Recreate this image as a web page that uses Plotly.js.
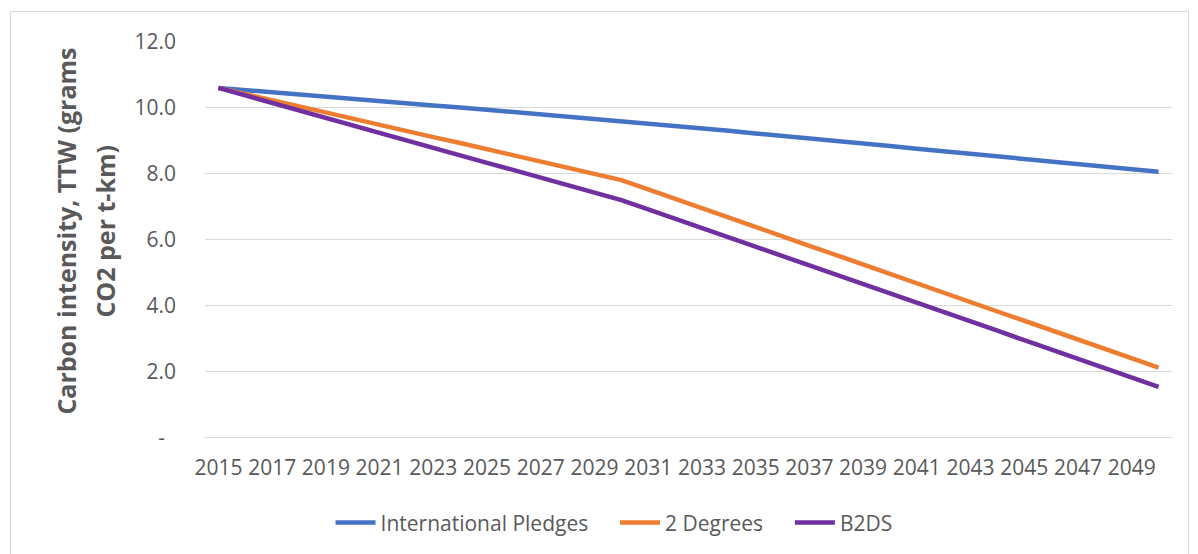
<!DOCTYPE html>
<html>
<head>
<meta charset="utf-8">
<script src="https://cdn.plot.ly/plotly-3.0.1.min.js"></script>
<style>
  html, body { margin: 0; padding: 0; background: #fff; }
  #wrap { position: relative; width: 1198px; height: 554px; overflow: hidden; }
  #chart { position: absolute; left: 0; top: 0; width: 1198px; height: 554px; }
  #frame { position: absolute; left: 10px; top: 11px; width: 1177px; height: 600px; border: 1px solid #d9d9d9; pointer-events: none; }
</style>
</head>
<body>
<div id="wrap">
  <div id="chart"></div>
  <div id="frame"></div>
</div>
<script>
const years = ["2015","2016","2017","2018","2019","2020","2021","2022","2023","2024","2025","2026","2027","2028","2029","2030","2031","2032","2033","2034","2035","2036","2037","2038","2039","2040","2041","2042","2043","2044","2045","2046","2047","2048","2049","2050"];

const internationalPledges = [10.59,10.52,10.46,10.39,10.33,10.26,10.19,10.13,10.06,10.00,9.93,9.86,9.80,9.73,9.67,9.60,9.52,9.45,9.37,9.29,9.21,9.14,9.06,8.98,8.90,8.83,8.75,8.67,8.59,8.52,8.44,8.36,8.28,8.21,8.13,8.05];

const twoDegrees = [10.59,10.40,10.22,10.03,9.85,9.66,9.47,9.29,9.10,8.92,8.73,8.54,8.36,8.17,7.99,7.80,7.52,7.23,6.95,6.66,6.38,6.10,5.81,5.53,5.24,4.96,4.68,4.39,4.11,3.82,3.54,3.26,2.97,2.69,2.40,2.12];

const b2ds = [10.59,10.36,10.14,9.91,9.68,9.46,9.23,9.00,8.78,8.55,8.32,8.10,7.87,7.64,7.42,7.19,6.91,6.63,6.34,6.06,5.78,5.50,5.21,4.93,4.65,4.37,4.08,3.80,3.52,3.24,2.95,2.67,2.39,2.11,1.82,1.54];

const seriesNames = ["International Pledges", "2 Degrees", "B2DS"];
const yTickVals = [0, 2, 4, 6, 8, 10, 12];
const yTickText = ["-\u00a0\u00a0", "2.0", "4.0", "6.0", "8.0", "10.0", "12.0"];
const yTitleLines = ["Carbon intensity, TTW (grams", "CO2 per t-km)"];

const colors = ["#4472C4", "#ED7D31", "#7030A0"];
const seriesData = [internationalPledges, twoDegrees, b2ds];
const pad = "\u00a0\u00a0\u00a0\u00a0";

const traces = seriesData.map((vals, i) => ({
  x: years,
  y: vals,
  type: "scatter",
  mode: "lines",
  name: seriesNames[i] + (i < seriesData.length - 1 ? pad : ""),
  line: { color: colors[i], width: 4.5 },
  hoverinfo: "skip"
}));

const xTickVals = years.filter((y, i) => i % 2 === 0);

const font = "'Open Sans', 'Noto Sans', sans-serif";
const grey = "#595959";

const layout = {
  width: 1198,
  height: 554,
  margin: { l: 205, r: 26, t: 41, b: 116, autoexpand: false },
  paper_bgcolor: "#ffffff",
  plot_bgcolor: "#ffffff",
  font: { family: font, color: grey, size: 21 },
  showlegend: true,
  legend: {
    orientation: "h",
    x: 0.423,
    xanchor: "center",
    y: -0.214,
    yanchor: "middle",
    font: { family: font, size: 21, color: grey },
    itemwidth: 40,
    tracegroupgap: 0
  },
  xaxis: {
    type: "category",
    categoryorder: "array",
    categoryarray: years,
    range: [-0.5, years.length - 0.5],
    tickmode: "array",
    tickvals: xTickVals,
    ticktext: xTickVals,
    tickangle: 0,
    showgrid: false,
    showline: false,
    zeroline: false,
    ticks: "",
    automargin: false,
    ticklabelstandoff: 15,
    tickfont: { family: font, size: 21, color: grey },
    fixedrange: true
  },
  yaxis: {
    range: [-0.01, 12.01],
    tickmode: "array",
    tickvals: yTickVals,
    ticktext: yTickText,
    showgrid: true,
    gridcolor: "#d9d9d9",
    gridwidth: 1,
    zeroline: true,
    zerolinecolor: "#d9d9d9",
    zerolinewidth: 1,
    showline: false,
    ticks: "",
    automargin: false,
    ticklabelstandoff: 28,
    tickfont: { family: font, size: 21, color: grey },
    fixedrange: true
  },
  annotations: [
    {
      text: "<b>" + yTitleLines[0] + "</b>",
      xref: "paper", yref: "paper",
      x: -0.1437, y: 0.52,
      xanchor: "center", yanchor: "middle",
      textangle: -90, showarrow: false,
      font: { family: font, size: 25, color: grey }
    },
    {
      text: "<b>" + yTitleLines[1] + "</b>",
      xref: "paper", yref: "paper",
      x: -0.1034, y: 0.52,
      xanchor: "center", yanchor: "middle",
      textangle: -90, showarrow: false,
      font: { family: font, size: 25, color: grey }
    }
  ]
};

Plotly.newPlot("chart", traces, layout, { displayModeBar: false, staticPlot: true });
</script>
</body>
</html>
